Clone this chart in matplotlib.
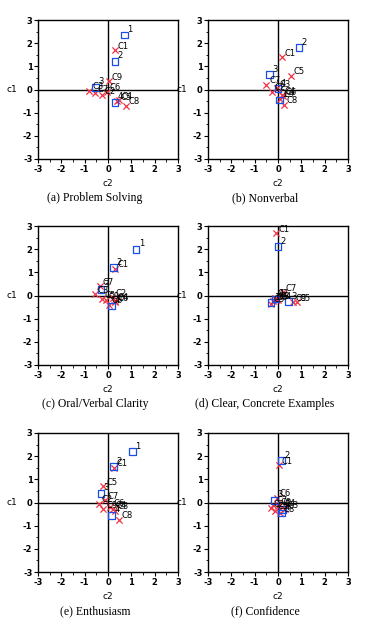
import matplotlib
matplotlib.use('Agg')
import matplotlib.pyplot as plt
from matplotlib.ticker import MultipleLocator

plt.rcParams['axes.unicode_minus'] = False

# correspondence-analysis style maps, one per criterion
titles = ['(a) Problem Solving', '(b) Nonverbal', '(c) Oral/Verbal Clarity',
          '(d) Clear, Concrete Examples', '(e) Enthusiasm', '(f) Confidence']

row_labels = ['1', '2', '3', '4']
col_labels = ['C1', 'C2', 'C3', 'C4', 'C5', 'C6', 'C7', 'C8', 'C9']

# rating points (blue squares): (c2, c1)
rows_a = [(0.7, 2.35), (0.3, 1.22), (-0.55, 0.1), (0.3, -0.55)]
rows_b = [(0.05, -0.45), (0.9, 1.8), (-0.35, 0.65), (0.0, 0.05)]
rows_c = [(1.2, 2.0), (0.25, 1.2), (-0.3, 0.25), (0.15, -0.45)]
rows_d = [(-0.3, -0.3), (0.0, 2.1), (0.45, -0.25), (-0.1, -0.15)]
rows_e = [(1.05, 2.2), (0.25, 1.55), (-0.3, 0.4), (0.15, -0.55)]
rows_f = [(0.2, -0.3), (0.15, 1.8), (-0.15, 0.1), (0.15, -0.45)]

# class points (red crosses): (c2, c1)
cols_a = [(0.3, 1.7), (-0.25, -0.25), (-0.8, -0.05), (0.45, -0.45), (0.4, -0.5),
          (-0.05, -0.1), (-0.55, -0.15), (0.75, -0.7), (0.05, 0.35)]
cols_b = [(0.15, 1.4), (-0.25, -0.1), (-0.05, 0.05), (0.15, -0.25), (0.55, 0.6),
          (0.2, -0.3), (-0.5, 0.2), (0.25, -0.65), (0.1, -0.4)]
cols_c = [(0.3, 1.15), (0.2, -0.1), (-0.55, 0.05), (0.3, -0.25), (-0.25, -0.15),
          (0.3, -0.3), (-0.35, 0.4), (0.05, -0.4), (-0.1, -0.2)]
cols_d = [(-0.1, 2.7), (-0.15, -0.1), (-0.3, -0.35), (0.0, -0.2), (0.8, -0.3),
          (-0.2, -0.25), (0.2, 0.15), (-0.1, -0.2), (0.65, -0.3)]
cols_e = [(0.25, 1.5), (-0.4, -0.05), (0.3, -0.35), (0.2, -0.3), (-0.2, 0.7),
          (0.1, -0.2), (-0.15, 0.1), (0.45, -0.75), (-0.2, -0.3)]
cols_f = [(0.05, 1.6), (-0.3, -0.25), (0.3, -0.3), (0.15, -0.2), (-0.15, -0.35),
          (-0.05, 0.2), (-0.2, -0.1), (0.1, -0.45), (0.0, -0.15)]

all_rows = [rows_a, rows_b, rows_c, rows_d, rows_e, rows_f]
all_cols = [cols_a, cols_b, cols_c, cols_d, cols_e, cols_f]

W, H = 367, 626
# axes boxes in pixels: left, top
boxes = [(38, 20), (208, 20), (38, 226), (208, 226), (38, 433), (208, 433)]
box_w, box_h = 140, 139

fig = plt.figure(figsize=(W / 100, H / 100), dpi=100)

for i in range(6):
    x0, y0 = boxes[i]
    ax = fig.add_axes([x0 / W, 1 - (y0 + box_h) / H, box_w / W, box_h / H])
    ax.set_xlim(-3, 3)
    ax.set_ylim(-3, 3)
    ax.axhline(0, color='black', lw=1, zorder=1)
    ax.axvline(0, color='black', lw=1, zorder=1)

    rx = [p[0] for p in all_rows[i]]
    ry = [p[1] for p in all_rows[i]]
    cx = [p[0] for p in all_cols[i]]
    cy = [p[1] for p in all_cols[i]]
    ax.scatter(cx, cy, marker='x', color='#ee3344', s=20, lw=0.9, zorder=3)
    ax.scatter(rx, ry, marker='s', facecolor='none', edgecolor='#1a4fe6', s=24, lw=0.9, zorder=4)

    for lab, x, y in zip(col_labels, cx, cy):
        ax.annotate(lab, (x, y), xytext=(2, 1), textcoords='offset points',
                    fontsize=6, color='black', zorder=5)
    for lab, x, y in zip(row_labels, rx, ry):
        ax.annotate(lab, (x, y), xytext=(2, 2), textcoords='offset points',
                    fontsize=6, color='black', zorder=5)

    ax.set_xticks(range(-3, 4))
    ax.set_yticks(range(-3, 4))
    ax.xaxis.set_minor_locator(MultipleLocator(0.5))
    ax.yaxis.set_minor_locator(MultipleLocator(0.5))
    ax.tick_params(which='major', length=3, width=0.8, labelsize=6, pad=1)
    ax.tick_params(which='minor', length=1.8, width=0.6)
    for t in ax.get_xticklabels() + ax.get_yticklabels():
        t.set_fontweight('bold')
    for s in ax.spines.values():
        s.set_linewidth(1)

    ax.set_xlabel('c2', fontsize=6.5, labelpad=4)
    ax.set_ylabel('c1', fontsize=6.5, rotation=0, labelpad=8, va='center')

    # caption below each panel
    cx_pix = x0 + 57
    cy_pix = y0 + box_h + 39
    fig.text(cx_pix / W, 1 - cy_pix / H, titles[i], ha='center', va='center',
             fontsize=8.5, family='Liberation Serif')

plt.savefig('out.png', dpi=100)
